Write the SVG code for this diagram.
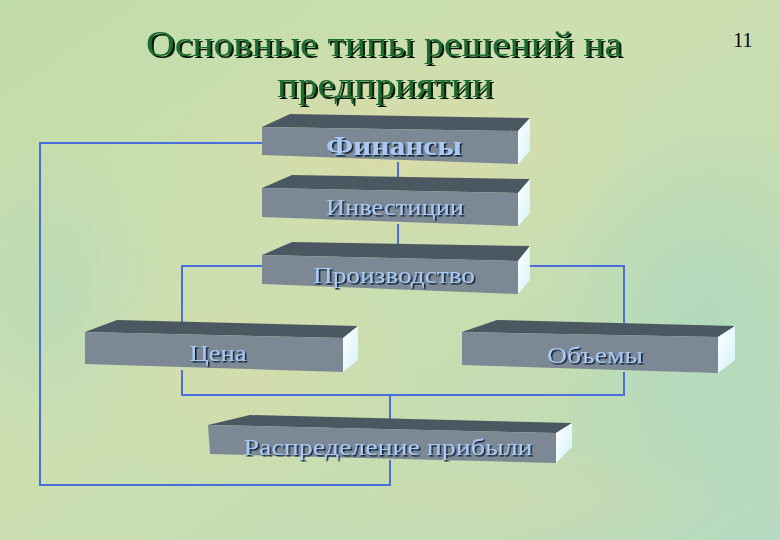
<svg xmlns="http://www.w3.org/2000/svg" width="780" height="540" viewBox="0 0 780 540">
<defs>
<linearGradient id="bg" x1="0" y1="0" x2="1" y2="1">
<stop offset="0" stop-color="#c0dcaa"/>
<stop offset="0.4" stop-color="#cddfb0"/>
<stop offset="0.7" stop-color="#c4ddb2"/>
<stop offset="1" stop-color="#b6dac0"/>
</linearGradient>
<radialGradient id="blob1" cx="0.5" cy="0.5" r="0.5">
<stop offset="0" stop-color="#dcdaa6" stop-opacity="0.75"/>
<stop offset="1" stop-color="#dcdaa6" stop-opacity="0"/>
</radialGradient>
<radialGradient id="blob2" cx="0.5" cy="0.5" r="0.5">
<stop offset="0" stop-color="#aad8c2" stop-opacity="0.7"/>
<stop offset="1" stop-color="#aad8c2" stop-opacity="0"/>
</radialGradient>
<linearGradient id="side" x1="0" y1="0" x2="1" y2="1">
<stop offset="0" stop-color="#ffffff"/>
<stop offset="1" stop-color="#d4f2fa"/>
</linearGradient>
<filter id="tshadow" x="-5%" y="-20%" width="110%" height="140%">
<feDropShadow dx="1.5" dy="1.5" stdDeviation="0" flood-color="#0d1a2e" flood-opacity="1"/>
</filter>
<filter id="hshadow" x="-5%" y="-20%" width="110%" height="140%">
<feDropShadow dx="2" dy="2" stdDeviation="0" flood-color="#061206" flood-opacity="1"/>
</filter>
<style>
.front{fill:#7c8995}
.top{fill:#4b5861}
.side{fill:url(#side)}
.lbl{font-family:"Liberation Serif","Times New Roman",serif;font-size:24px;text-anchor:middle;fill:#a9c8f4;filter:url(#tshadow)}
.bold{font-weight:bold;font-size:27px}
.title{font-family:"Liberation Serif","Times New Roman",serif;font-size:36px;text-anchor:middle;fill:#1e6a30;filter:url(#hshadow)}
.conn{fill:none;stroke:#4a6ee0;stroke-width:2}
</style>
</defs>
<rect width="780" height="540" fill="url(#bg)"/>
<ellipse cx="400" cy="150" rx="240" ry="130" fill="url(#blob1)"/>
<ellipse cx="250" cy="380" rx="180" ry="120" fill="url(#blob1)" opacity="0.7"/>
<ellipse cx="700" cy="320" rx="150" ry="200" fill="url(#blob2)"/>
<ellipse cx="50" cy="300" rx="120" ry="160" fill="url(#blob2)" opacity="0.6"/>
<ellipse cx="500" cy="500" rx="220" ry="60" fill="url(#blob1)" opacity="0.5"/>

<g id="title">
<text class="title" x="384" y="56" textLength="476" lengthAdjust="spacingAndGlyphs">Основные типы решений на</text>
<text class="title" x="385" y="97" textLength="216" lengthAdjust="spacingAndGlyphs">предприятии</text>
</g>
<text id="page-number" x="743" y="47" font-family="Liberation Serif, serif" font-size="20" text-anchor="middle" fill="#000">11</text>

<g id="connectors">
<polyline class="conn" points="262,143 40,143 40,485 390,485 390,460"/>
<line class="conn" x1="398" y1="162" x2="398" y2="188"/>
<line class="conn" x1="398" y1="224" x2="398" y2="254"/>
<polyline class="conn" points="262,266 182,266 182,330"/>
<polyline class="conn" points="524,266 624,266 624,333"/>
<polyline class="conn" points="182,370 182,395 624,395 624,372"/>
<line class="conn" x1="390" y1="395" x2="390" y2="425"/>
</g>

<g id="node-finance">
<polygon class="top" points="262,127 290,114 530,118 518,131"/>
<polygon class="front" points="262,127 518,131 518,164 262,155"/>
<polygon class="side" points="518,131 530,118 530,151 518,164"/>
<text class="lbl bold" x="394" y="155" textLength="136" lengthAdjust="spacingAndGlyphs">Финансы</text>
</g>

<g id="node-investments">
<polygon class="top" points="262,188 292,175 530,179 518,193"/>
<polygon class="front" points="262,188 518,193 518,226 262,217"/>
<polygon class="side" points="518,193 530,179 530,213 518,226"/>
<text class="lbl" x="395" y="215" textLength="138" lengthAdjust="spacingAndGlyphs">Инвестиции</text>
</g>

<g id="node-production">
<polygon class="top" points="262,255 292,242 530,246 518,261"/>
<polygon class="front" points="262,255 518,261 518,294 262,284"/>
<polygon class="side" points="518,261 530,246 530,280 518,294"/>
<text class="lbl" x="394" y="283" textLength="162" lengthAdjust="spacingAndGlyphs">Производство</text>
</g>

<g id="node-price">
<polygon class="top" points="85,332 117,320 358,326 343,338"/>
<polygon class="front" points="85,332 343,338 343,372 85,364"/>
<polygon class="side" points="343,338 358,326 358,360 343,372"/>
<text class="lbl" x="218" y="361" textLength="57" lengthAdjust="spacingAndGlyphs">Цена</text>
</g>

<g id="node-volumes">
<polygon class="top" points="462,332 497,320 735,326 718,337"/>
<polygon class="front" points="462,332 718,337 718,373 462,365"/>
<polygon class="side" points="718,337 735,326 735,360 718,373"/>
<text class="lbl" x="595" y="363" textLength="96" lengthAdjust="spacingAndGlyphs">Объемы</text>
</g>

<g id="node-profit">
<polygon class="top" points="208,425 250,415 572,423 556,433"/>
<polygon class="front" points="208,425 556,433 556,463 210,454"/>
<polygon class="side" points="556,433 572,423 572,447 556,463"/>
<text class="lbl" x="388" y="455" textLength="289" lengthAdjust="spacingAndGlyphs">Распределение прибыли</text>
</g>
</svg>
